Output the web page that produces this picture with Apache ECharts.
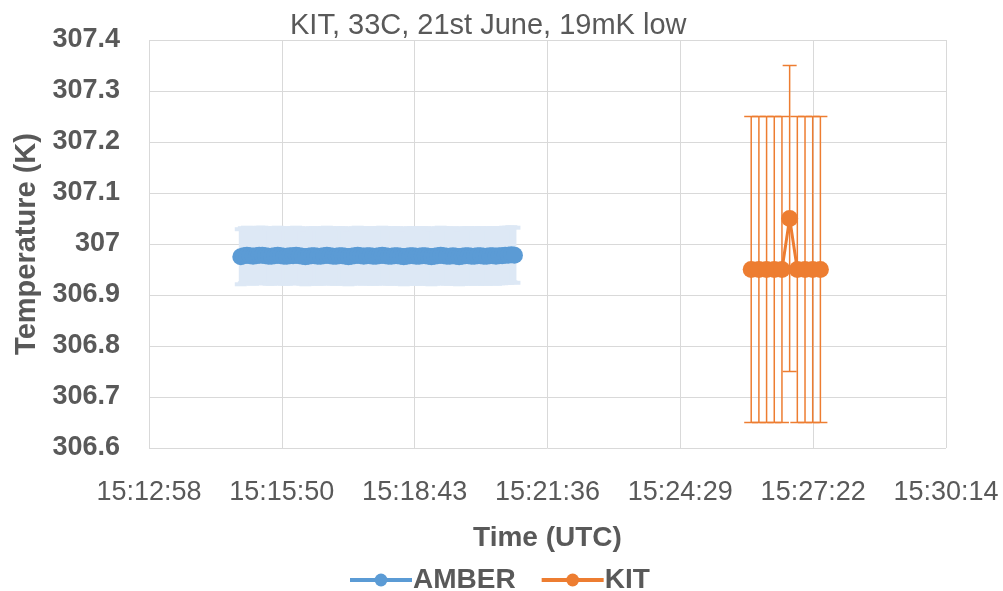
<!DOCTYPE html>
<html>
<head>
<meta charset="utf-8">
<script src="https://cdn.jsdelivr.net/npm/echarts@6/dist/echarts.min.js"></script>
<style>
html,body{margin:0;padding:0;background:#fff;overflow:hidden;}
#chart{width:1003px;height:591px;}
</style>
</head>
<body>
<div id="chart"></div>
<script>
// ---- data ----
const xTickStartSec = 54777.6;   // 15:12:58 (Excel 0.634 day)
const xTickStepSec = 172.8;      // 0.002 day
const xTickEndSec = 55814.4;     // 15:30:14
const yTicks = [306.6, 306.7, 306.8, 306.9, 307.0, 307.1, 307.2, 307.3, 307.4];

const amberTimes = ('15:14:57 ' +
  '15:15:01 15:15:05 15:15:09 15:15:13 15:15:17 15:15:21 15:15:25 15:15:29 15:15:33 15:15:37 15:15:41 15:15:45 15:15:49 15:15:53 15:15:57 ' +
  '15:16:01 15:16:05 15:16:09 15:16:13 15:16:17 15:16:21 15:16:25 15:16:29 15:16:33 15:16:37 15:16:41 15:16:45 15:16:49 15:16:53 15:16:57 ' +
  '15:17:01 15:17:05 15:17:09 15:17:13 15:17:17 15:17:21 15:17:25 15:17:29 15:17:33 15:17:37 15:17:41 15:17:45 15:17:49 15:17:53 15:17:57 ' +
  '15:18:01 15:18:05 15:18:09 15:18:13 15:18:17 15:18:21 15:18:25 15:18:29 15:18:33 15:18:37 15:18:41 15:18:45 15:18:49 15:18:53 15:18:57 ' +
  '15:19:01 15:19:05 15:19:09 15:19:13 15:19:17 15:19:21 15:19:25 15:19:29 15:19:33 15:19:37 15:19:41 15:19:45 15:19:49 15:19:53 15:19:57 ' +
  '15:20:01 15:20:05 15:20:09 15:20:13 15:20:17 15:20:21 15:20:25 15:20:29 15:20:33 15:20:37 15:20:41 15:20:45 15:20:49 15:20:53').split(' ');
const amberTemps = [
  306.975,306.977,306.978,306.977,306.976,306.977,306.978,306.978,306.977,306.976,306.976,306.977,306.978,306.977,306.976,
  306.976,306.977,306.977,306.978,306.977,306.976,306.975,306.976,306.977,306.977,306.976,306.976,306.977,306.978,306.977,
  306.976,306.976,306.977,306.977,306.976,306.975,306.976,306.977,306.978,306.977,306.976,306.977,306.977,306.976,306.976,
  306.977,306.978,306.977,306.976,306.976,306.977,306.977,306.976,306.975,306.976,306.977,306.977,306.976,306.976,306.977,
  306.977,306.976,306.975,306.976,306.977,306.978,306.977,306.976,306.976,306.977,306.976,306.975,306.976,306.977,306.977,
  306.976,306.976,306.977,306.977,306.976,306.976,306.977,306.977,306.976,306.977,306.977,306.978,306.978,306.979,306.978
];
const amberError = 0.054;

const kitTimes = ['15:26:01','15:26:11','15:26:21','15:26:31','15:26:41','15:26:51','15:27:01','15:27:11','15:27:21','15:27:31'];
const kitTemps = [306.95, 306.95, 306.95, 306.95, 306.95, 307.05, 306.95, 306.95, 306.95, 306.95];
const kitErrors = [0.3, 0.3, 0.3, 0.3, 0.3, 0.3, 0.3, 0.3, 0.3, 0.3];

// ---- helpers ----
function toSec(t){ const p=t.split(':').map(Number); return p[0]*3600+p[1]*60+p[2]; }
function fmtSec(v){
  const s=Math.round(v); const h=Math.floor(s/3600), m=Math.floor((s%3600)/60), ss=s%60;
  return h+':'+String(m).padStart(2,'0')+':'+String(ss).padStart(2,'0');
}
const FONT = '"Liberation Sans", Arial, sans-serif';
const TXT = '#595959';

const amberLine = amberTimes.map((t,i)=>[toSec(t), amberTemps[i]]);
const amberBars = amberTimes.map((t,i)=>[toSec(t), amberTemps[i]-amberError, amberTemps[i]+amberError]);
const kitLine = kitTimes.map((t,i)=>[toSec(t), kitTemps[i]]);
const kitBars = kitTimes.map((t,i)=>[toSec(t), kitTemps[i]-kitErrors[i], kitTemps[i]+kitErrors[i]]);

function errorBars(color, width, capHalf){
  return function(params, api){
    const x=api.value(0), lo=api.value(1), hi=api.value(2);
    const a=api.coord([x,hi]), b=api.coord([x,lo]);
    const st={stroke:color, lineWidth:width};
    return {type:'group', children:[
      {type:'line', shape:{x1:a[0],y1:a[1],x2:b[0],y2:b[1]}, style:st},
      {type:'line', shape:{x1:a[0]-capHalf,y1:a[1],x2:a[0]+capHalf,y2:a[1]}, style:st},
      {type:'line', shape:{x1:b[0]-capHalf,y1:b[1],x2:b[0]+capHalf,y2:b[1]}, style:st}
    ]};
  };
}

const chart = echarts.init(document.getElementById('chart'), null, {renderer:'canvas'});
chart.setOption({
  animation:false,
  backgroundColor:'#fff',
  title:{
    text:'KIT, 33C, 21st June, 19mK low',
    left:285, top:6,
    textStyle:{fontFamily:FONT, fontSize:29, fontWeight:'normal', color:TXT}
  },
  grid:{left:149, right:57, top:40, bottom:143, containLabel:false, outerBoundsMode:'none'},
  legend:{
    data:['AMBER','KIT'], left:348, top:566, padding:0,
    itemWidth:62, itemHeight:16, itemGap:24,
    lineStyle:{width:4},
    textStyle:{fontFamily:FONT, fontSize:28, fontWeight:'bold', color:TXT, padding:[0,0,0,-4]}
  },
  xAxis:{
    type:'value', min:xTickStartSec, max:xTickEndSec, interval:xTickStepSec,
    axisLine:{show:false}, axisTick:{show:false},
    splitLine:{show:true, lineStyle:{color:'#D9D9D9', width:1}},
    axisLabel:{formatter:fmtSec, fontFamily:FONT, fontSize:27, color:TXT, margin:31},
    name:'Time (UTC)', nameLocation:'middle', nameGap:76,
    nameTextStyle:{fontFamily:FONT, fontSize:28, fontWeight:'bold', color:TXT}
  },
  yAxis:{
    type:'value', min:yTicks[0], max:yTicks[yTicks.length-1], interval:0.1,
    axisLine:{show:false}, axisTick:{show:false},
    splitLine:{show:true, lineStyle:{color:'#D9D9D9', width:1}},
    axisLabel:{formatter:v=>String(parseFloat(v.toFixed(1))), fontFamily:FONT, fontSize:27, fontWeight:'bold', color:TXT, margin:29},
    name:'Temperature (K)', nameLocation:'middle', nameGap:104, nameRotate:90,
    nameTextStyle:{fontFamily:FONT, fontSize:29, fontWeight:'bold', color:TXT}
  },
  series:[
    {type:'custom', name:'AMBER err', renderItem:errorBars('#DDE8F5',4,6), data:amberBars, encode:{x:0,y:[1,2]}, z:1, silent:true},
    {type:'custom', name:'KIT err', renderItem:errorBars('#ED7D31',1.5,7), data:kitBars, encode:{x:0,y:[1,2]}, z:1, silent:true},
    {type:'line', name:'AMBER', data:amberLine, color:'#5B9BD5', symbol:'circle', symbolSize:17, showAllSymbol:true,
     lineStyle:{width:3, color:'#5B9BD5'}, itemStyle:{color:'#5B9BD5'}, z:3},
    {type:'line', name:'KIT', data:kitLine, color:'#ED7D31', symbol:'circle', symbolSize:17, showAllSymbol:true,
     lineStyle:{width:3, color:'#ED7D31'}, itemStyle:{color:'#ED7D31'}, z:3}
  ]
});
</script>
</body>
</html>
